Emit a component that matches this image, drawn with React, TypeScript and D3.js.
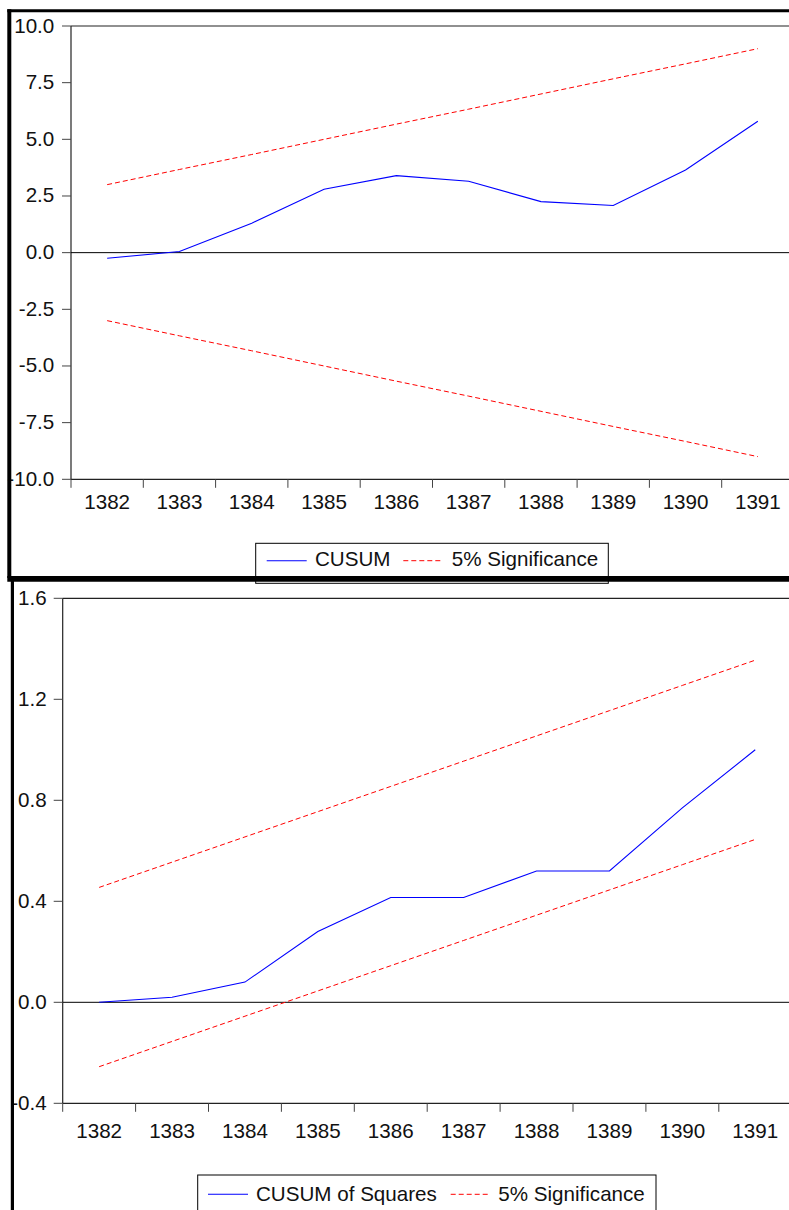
import React from 'react';
import * as d3 from 'd3';

const categories = ['1382', '1383', '1384', '1385', '1386', '1387', '1388', '1389', '1390', '1391'];

const cusum = [-0.25, 0.05, 1.3, 2.8, 3.4, 3.15, 2.25, 2.08, 3.65, 5.8];
const cusumUpper = [3.0, 3.67, 4.33, 5.0, 5.67, 6.33, 7.0, 7.67, 8.33, 9.0];
const cusumLower = [-3.0, -3.67, -4.33, -5.0, -5.67, -6.33, -7.0, -7.67, -8.33, -9.0];
const cusumTicks = [10, 7.5, 5, 2.5, 0, -2.5, -5, -7.5, -10];

const cusumSq = [0.0, 0.02, 0.08, 0.28, 0.415, 0.415, 0.52, 0.52, 0.77, 1.0];
const sqUpper = [0.455, 0.555, 0.655, 0.755, 0.855, 0.955, 1.055, 1.155, 1.255, 1.355];
const sqLower = [-0.255, -0.155, -0.055, 0.045, 0.145, 0.245, 0.345, 0.445, 0.545, 0.645];
const sqTicks = [1.6, 1.2, 0.8, 0.4, 0.0, -0.4];

const FONT = '"Liberation Sans", Arial, Helvetica, sans-serif';
const FS = 20.6;
const W = 789;
const H = 1210;

type PanelProps = {
  left: number;
  top: number;
  bottom: number;
  bandW: number;
  domain: [number, number];
  ticks: number[];
  fmt: (v: number) => string;
  labelRight: number;
  xLabelBase: number;
  series: number[];
  upper: number[];
  lower: number[];
  legend: { x: number; y: number; w: number; h: number; name: string; blueX: number; textX: number; redX: number; sigX: number; base: number; lineY: number };
};

function Panel(p: PanelProps) {
  const x = d3.scaleBand<string>().domain(categories).range([p.left, p.left + p.bandW * categories.length]);
  const y = d3.scaleLinear().domain(p.domain).range([p.bottom, p.top]);
  const cx = (c: string) => (x(c) as number) + x.bandwidth() / 2;
  const line = d3
    .line<number>()
    .x((_, i) => cx(categories[i]))
    .y((d) => y(d));
  const axisColor = '#222';
  return (
    <g>
      <line x1={p.left} x2={W} y1={p.top} y2={p.top} stroke={axisColor} strokeWidth={1.2} />
      <line x1={p.left} x2={p.left} y1={p.top} y2={p.bottom} stroke={axisColor} strokeWidth={1.2} />
      <line x1={p.left} x2={W} y1={p.bottom} y2={p.bottom} stroke={axisColor} strokeWidth={1.2} />
      <line x1={p.left} x2={W} y1={y(0)} y2={y(0)} stroke="#000" strokeWidth={1} />
      {p.ticks.map((t) => (
        <g key={'y' + t}>
          <line x1={p.left - 9} x2={p.left} y1={y(t)} y2={y(t)} stroke="#444" strokeWidth={1} />
          <text x={p.labelRight} y={y(t) + 6.5} textAnchor="end" fontFamily={FONT} fontSize={FS} fill="#111">
            {p.fmt(t)}
          </text>
        </g>
      ))}
      {categories.map((c) => (
        <g key={'x' + c}>
          <line x1={x(c) as number} x2={x(c) as number} y1={p.bottom} y2={p.bottom + 8.5} stroke="#444" strokeWidth={1} />
          <text x={cx(c)} y={p.xLabelBase} textAnchor="middle" fontFamily={FONT} fontSize={FS} fill="#111">
            {c}
          </text>
        </g>
      ))}
      <path d={line(p.upper) || ''} fill="none" stroke="#ff0000" strokeWidth={1} strokeDasharray="5,3" />
      <path d={line(p.lower) || ''} fill="none" stroke="#ff0000" strokeWidth={1} strokeDasharray="5,3" />
      <path d={line(p.series) || ''} fill="none" stroke="#0000ff" strokeWidth={1.1} />
      <rect x={p.legend.x} y={p.legend.y} width={p.legend.w} height={p.legend.h} fill="#fff" stroke="#000" strokeWidth={1} />
      <line x1={p.legend.blueX} x2={p.legend.blueX + 40} y1={p.legend.lineY} y2={p.legend.lineY} stroke="#0000ff" strokeWidth={1.1} />
      <text x={p.legend.textX} y={p.legend.base} fontFamily={FONT} fontSize={FS} fill="#111">
        {p.legend.name}
      </text>
      <line x1={p.legend.redX} x2={p.legend.redX + 40} y1={p.legend.lineY} y2={p.legend.lineY} stroke="#ff0000" strokeWidth={1} strokeDasharray="5,3" />
      <text x={p.legend.sigX} y={p.legend.base} fontFamily={FONT} fontSize={FS} fill="#111">
        5% Significance
      </text>
    </g>
  );
}

export default function App() {
  return (
    <svg
      width={W}
      height={H}
      viewBox={`0 0 ${W} ${H}`}
      style={{ position: 'absolute', left: 0, top: 0, background: '#fff' }}
    >
      <rect x={0} y={0} width={W} height={H} fill="#fff" />
      <Panel
        left={71}
        top={26}
        bottom={479.3}
        bandW={72.3}
        domain={[-10, 10]}
        ticks={cusumTicks}
        fmt={(v) => d3.format('.1f')(v).replace('−', '-')}
        labelRight={54.3}
        xLabelBase={509.3}
        series={cusum}
        upper={cusumUpper}
        lower={cusumLower}
        legend={{ x: 255.7, y: 543.3, w: 352.6, h: 40, name: 'CUSUM', blueX: 266.7, textX: 315, redX: 403.3, sigX: 451.7, base: 566, lineY: 560.7 }}
      />
      <Panel
        left={62.7}
        top={598.3}
        bottom={1103.3}
        bandW={72.9}
        domain={[-0.4, 1.6]}
        ticks={sqTicks}
        fmt={(v) => d3.format('.1f')(v).replace('−', '-')}
        labelRight={46.7}
        xLabelBase={1137.5}
        series={cusumSq}
        upper={sqUpper}
        lower={sqLower}
        legend={{ x: 197.7, y: 1175, w: 458.3, h: 50, name: 'CUSUM of Squares', blueX: 208, textX: 256, redX: 450.7, sigX: 498.3, base: 1200.7, lineY: 1194.3 }}
      />
      <line x1={7.3} x2={W} y1={10.7} y2={10.7} stroke="#000" strokeWidth={3} />
      <line x1={9.3} x2={9.3} y1={9.3} y2={578} stroke="#000" strokeWidth={4} />
      <line x1={7.3} x2={W} y1={578.8} y2={578.8} stroke="#000" strokeWidth={5.8} />
      <line x1={12.4} x2={12.4} y1={578} y2={H} stroke="#000" strokeWidth={3.2} />
    </svg>
  );
}
